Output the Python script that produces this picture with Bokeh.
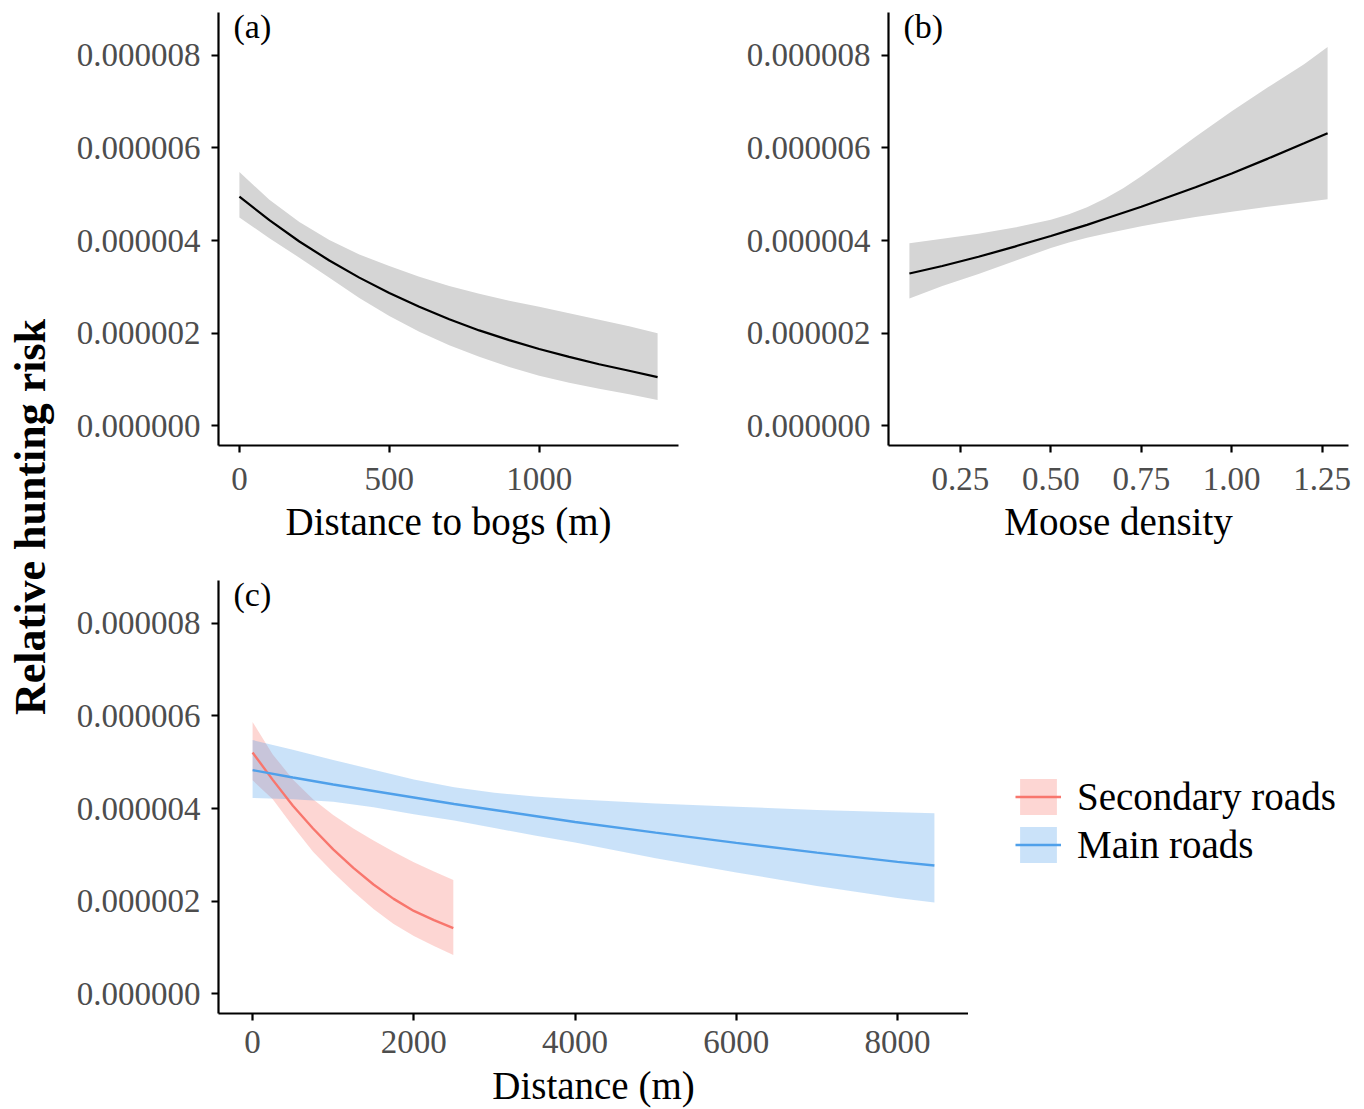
import numpy as np
from bokeh.plotting import figure
from bokeh.models import (Range1d, FixedTicker, PrintfTickFormatter, Label, Legend,
                          LegendItem, ColumnDataSource)
from bokeh.layouts import row, column
from bokeh.embed import file_html
from bokeh.resources import INLINE

# ---------------- data (values in units of 1e-6) ----------------
# (a) Distance to bogs
bog_dist = [0, 100, 200, 300, 400, 500, 600, 700, 800, 900, 1000, 1100, 1200, 1300, 1395]
bog_fit = [4.95, 4.44, 3.98, 3.57, 3.20, 2.87, 2.57, 2.30, 2.06, 1.85, 1.66, 1.49, 1.33, 1.19, 1.05]
bog_upper = [5.48, 4.88, 4.40, 4.01, 3.70, 3.45, 3.22, 3.02, 2.85, 2.70, 2.57, 2.43, 2.29, 2.15, 2.00]
bog_lower = [4.50, 4.05, 3.63, 3.20, 2.76, 2.37, 2.03, 1.74, 1.49, 1.27, 1.08, 0.93, 0.80, 0.68, 0.56]

# (b) Moose density
moose = [0.109, 0.2, 0.3, 0.4, 0.5, 0.55, 0.6, 0.65, 0.7, 0.75, 0.8, 0.9, 1.0, 1.1, 1.2, 1.265]
moose_fit = [3.29, 3.45, 3.65, 3.87, 4.10, 4.22, 4.34, 4.47, 4.60, 4.73, 4.87, 5.15, 5.45, 5.77, 6.10, 6.32]
moose_upper = [3.94, 4.04, 4.15, 4.28, 4.45, 4.57, 4.72, 4.91, 5.13, 5.39, 5.67, 6.24, 6.79, 7.31, 7.81, 8.18]
moose_lower = [2.75, 3.02, 3.28, 3.56, 3.84, 3.96, 4.06, 4.15, 4.23, 4.31, 4.38, 4.51, 4.62, 4.73, 4.83, 4.89]

# (c) Distance to roads
sec_dist = [0, 250, 500, 750, 1000, 1250, 1500, 1750, 2000, 2250, 2490]
sec_fit = [5.21, 4.62, 4.06, 3.57, 3.12, 2.72, 2.36, 2.05, 1.79, 1.59, 1.42]
sec_upper = [5.87, 5.17, 4.63, 4.20, 3.86, 3.57, 3.31, 3.07, 2.84, 2.64, 2.46]
sec_lower = [4.61, 4.20, 3.62, 3.07, 2.62, 2.21, 1.83, 1.51, 1.25, 1.03, 0.84]

main_dist = [0, 500, 1000, 1500, 2000, 2500, 3000, 3500, 4000, 5000, 6000, 7000, 8000, 8458]
main_fit = [4.83, 4.67, 4.52, 4.38, 4.24, 4.10, 3.97, 3.84, 3.71, 3.48, 3.26, 3.05, 2.85, 2.77]
main_upper = [5.48, 5.27, 5.05, 4.84, 4.63, 4.46, 4.34, 4.26, 4.20, 4.11, 4.04, 3.97, 3.92, 3.90]
main_lower = [4.23, 4.20, 4.15, 4.03, 3.88, 3.74, 3.58, 3.42, 3.27, 2.93, 2.62, 2.33, 2.07, 1.97]

y_ticks = [0, 2e-6, 4e-6, 6e-6, 8e-6]
bog_ticks = [0, 500, 1000]
moose_ticks = [0.25, 0.50, 0.75, 1.00, 1.25]
road_ticks = [0, 2000, 4000, 6000, 8000]
legend_labels = ["Secondary roads", "Main roads"]

SCALE = 1e-6
FONT = "Liberation Serif"
Y_RANGE = (-0.425e-6, 8.925e-6)
RED = "#F8766D"
BLUE = "#4FA0EA"


def src(x, fit, up, lo):
    return ColumnDataSource(dict(x=x, fit=np.array(fit) * SCALE,
                                 upper=np.array(up) * SCALE,
                                 lower=np.array(lo) * SCALE))


def xrange_for(*xs):
    lo = min(min(x) for x in xs)
    hi = max(max(x) for x in xs)
    pad = 0.05 * (hi - lo)
    return Range1d(lo - pad, hi + pad)


def style(p, xlabel, xticks, xfmt=None, tick_standoff=15, title_standoff=7):
    for g in p.grid:
        g.visible = False
    p.outline_line_color = None
    p.background_fill_color = "white"
    for ax in (p.xaxis[0], p.yaxis[0]):
        ax.axis_line_width = 2.2
        ax.axis_line_color = "black"
        ax.major_tick_line_width = 2.2
        ax.major_tick_line_color = "black"
        ax.major_tick_out = 7
        ax.major_tick_in = 0
        ax.minor_tick_line_color = None
        ax.major_label_text_font = FONT
        ax.major_label_text_font_size = "33px"
        ax.major_label_text_color = "#4D4D4D"
        ax.axis_label_text_font = FONT
        ax.axis_label_text_font_size = "39px"
        ax.axis_label_text_font_style = "normal"
        ax.axis_label_text_color = "black"
    p.yaxis.ticker = FixedTicker(ticks=y_ticks)
    p.yaxis.formatter = PrintfTickFormatter(format="%.6f")
    p.yaxis.major_label_standoff = 11
    p.xaxis.ticker = FixedTicker(ticks=xticks)
    if xfmt is not None:
        p.xaxis.formatter = PrintfTickFormatter(format=xfmt)
    p.xaxis.major_label_standoff = tick_standoff
    p.xaxis.axis_label = xlabel
    p.xaxis.axis_label_standoff = title_standoff


def tag(p, text):
    p.add_layout(Label(x=p.x_range.start, y=p.y_range.end, x_offset=15, y_offset=5,
                       text=text, text_font=FONT, text_font_size="34px",
                       text_baseline="top", text_align="left", text_color="black"))


common = dict(toolbar_location=None, output_backend="svg", title=None)

# ---------------- panel (a) ----------------
pa = figure(width=640, height=550, x_range=xrange_for(bog_dist), y_range=Range1d(*Y_RANGE),
            min_border_left=158, min_border_right=22, min_border_top=12, min_border_bottom=105,
            **common)
sa = src(bog_dist, bog_fit, bog_upper, bog_lower)
pa.varea(x="x", y1="lower", y2="upper", source=sa, fill_color="#D5D5D5")
pa.line(x="x", y="fit", source=sa, line_color="black", line_width=2.2)
style(pa, "Distance to bogs (m)", bog_ticks)
tag(pa, "(a)")

# ---------------- panel (b) ----------------
pb = figure(width=662, height=550, x_range=xrange_for(moose), y_range=Range1d(*Y_RANGE),
            min_border_left=188, min_border_right=14, min_border_top=12, min_border_bottom=105,
            **common)
sb = src(moose, moose_fit, moose_upper, moose_lower)
pb.varea(x="x", y1="lower", y2="upper", source=sb, fill_color="#D5D5D5")
pb.line(x="x", y="fit", source=sb, line_color="black", line_width=2.2)
style(pb, "Moose density", moose_ticks, "%.2f")
tag(pb, "(b)")

# ---------------- panel (c) ----------------
pc = figure(width=908, height=559, x_range=xrange_for(sec_dist, main_dist),
            y_range=Range1d(*Y_RANGE),
            min_border_left=158, min_border_right=0, min_border_top=30, min_border_bottom=96,
            **common)
ss = src(sec_dist, sec_fit, sec_upper, sec_lower)
sm = src(main_dist, main_fit, main_upper, main_lower)
pc.varea(x="x", y1="lower", y2="upper", source=ss, fill_color=RED, fill_alpha=0.3)
pc.varea(x="x", y1="lower", y2="upper", source=sm, fill_color=BLUE, fill_alpha=0.3)
pc.line(x="x", y="fit", source=ss, line_color=RED, line_width=2.4)
pc.line(x="x", y="fit", source=sm, line_color=BLUE, line_width=2.4)
style(pc, "Distance (m)", road_ticks, tick_standoff=10, title_standoff=8)
tag(pc, "(c)")

# ---------------- legend area for panel (c) ----------------
# The legend keys use the same series; this area's ranges show none of the data itself.
pleg = figure(width=394, height=559, x_range=Range1d(-2, -1), y_range=Range1d(-2, -1),
              min_border=0, x_axis_location=None, y_axis_location=None, **common)
for g in pleg.grid:
    g.visible = False
pleg.outline_line_color = None
k_band_r = pleg.varea(x="x", y1="lower", y2="upper", source=ss, fill_color=RED, fill_alpha=0.3)
k_line_r = pleg.line(x="x", y="fit", source=ss, line_color=RED, line_width=2.4)
k_band_b = pleg.varea(x="x", y1="lower", y2="upper", source=sm, fill_color=BLUE, fill_alpha=0.3)
k_line_b = pleg.line(x="x", y="fit", source=sm, line_color=BLUE, line_width=2.4)
legend = Legend(items=[LegendItem(label=legend_labels[0], renderers=[k_band_r, k_line_r]),
                       LegendItem(label=legend_labels[1], renderers=[k_band_b, k_line_b])],
                location=(47, 146), orientation="vertical",
                glyph_width=46, glyph_height=45, label_height=45, spacing=3,
                padding=0, margin=0, label_standoff=16,
                label_text_font=FONT, label_text_font_size="39px", label_text_color="black",
                border_line_color=None, background_fill_alpha=0)
pleg.add_layout(legend, "center")

# ---------------- shared y label ----------------
pl = figure(width=60, height=1109, x_range=Range1d(0, 1), y_range=Range1d(0, 1),
            min_border=0, x_axis_location=None, y_axis_location=None, **common)
for g in pl.grid:
    g.visible = False
pl.outline_line_color = None
pl.add_layout(Label(x=0.5, y=0.5343, text="Relative hunting risk", angle=np.pi / 2,
                    text_align="center", text_baseline="middle", text_font=FONT,
                    text_font_size="44px", text_font_style="bold", text_color="black"))

layout = row(pl, column(row(pa, pb), row(pc, pleg)))

open("out.html", "w").write(file_html(layout, INLINE))
